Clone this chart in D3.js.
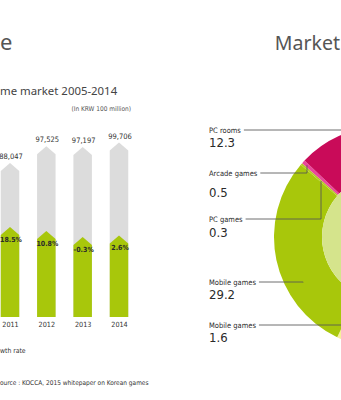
<!DOCTYPE html>
<html><head><meta charset="utf-8">
<script src="https://cdn.jsdelivr.net/npm/d3@7"></script>
<style>
html,body{margin:0;padding:0;background:#fff;overflow:hidden}
svg{display:block}
</style></head><body>
<svg id="chart" width="341" height="400"></svg>
<script>
// ---- data ----
const years = ["2011", "2012", "2013", "2014"];
const marketSize = [88047, 97525, 97197, 99706];           // KRW 100 million
const growthRate = [18.5, 10.8, -0.3, 2.6];                // %
const growthLabels = ["18.5%", "10.8%", "-0.3%", "2.6%"];
const sizeLabels = ["88,047", "97,525", "97,197", "99,706"];

const shareCategories = ["Online games", "Mobile games", "Mobile games", "PC games", "Arcade games", "PC rooms"];
const shareValues = [56.1, 1.6, 29.2, 0.3, 0.5, 12.3];
const shareLabels = ["", "1.6", "29.2", "0.3", "0.5", "12.3"];
const shareColors = ["#f4a23a", "#f6f199", "#a8c70b", "#b3cd22", "#e9489b", "#c90b59"];
const innerValues = [100];
const innerColors = ["#d5e48c"];

const texts = {
  titleLeft: "e",
  titleRight: "Market",
  subtitle: "me market 2005-2014",
  unit: "(In KRW 100 million)",
  legend: "wth rate",
  source: "ource :  KOCCA, 2015 whitepaper on Korean games"
};

// ---- drawing ----
const svg = d3.select("#chart");
const condensed = '"DejaVu Sans Condensed","DejaVu Sans",sans-serif';
const sans = '"Noto Sans","DejaVu Sans",sans-serif';

svg.append("text").attr("x", 0).attr("y", 50)
  .attr("font-family", sans).attr("font-size", 22).attr("fill", "#555").text(texts.titleLeft);
svg.append("text").attr("x", 340).attr("y", 50).attr("text-anchor", "end")
  .attr("font-family", sans).attr("font-size", 19.5).attr("fill", "#555").text(texts.titleRight);
svg.append("text").attr("x", 0).attr("y", 95)
  .attr("font-family", sans).attr("font-size", 11.4).attr("fill", "#444").text(texts.subtitle);
svg.append("text").attr("x", 131).attr("y", 111).attr("text-anchor", "end")
  .attr("font-family", condensed).attr("font-size", 6.5).attr("fill", "#555").text(texts.unit);

// bar chart
const x = d3.scalePoint().domain(years).range([10, 119]);
const y = d3.scaleLinear().domain([0, 100000]).range([317, 142]);
const yG = d3.scaleLinear().domain([-0.3, 18.5]).range([237, 227]);
const bw = 18.5, tip = 8;

function arrowPath(cx, top, bottom) {
  const p = d3.path();
  p.moveTo(cx - bw / 2, bottom);
  p.lineTo(cx - bw / 2, top + tip);
  p.lineTo(cx, top);
  p.lineTo(cx + bw / 2, top + tip);
  p.lineTo(cx + bw / 2, bottom);
  p.closePath();
  return p.toString();
}

const bars = svg.append("g");
years.forEach((yr, i) => {
  const cx = x(yr);
  bars.append("path").attr("d", arrowPath(cx, y(marketSize[i]), y(0))).attr("fill", "#dcdcdc");
  bars.append("path").attr("d", arrowPath(cx, yG(growthRate[i]), y(0))).attr("fill", "#a8c70b");
  bars.append("text").attr("x", cx + 1).attr("y", y(marketSize[i]) - 4).attr("text-anchor", "middle")
    .attr("font-family", condensed).attr("font-size", 7.5).attr("fill", "#333").text(sizeLabels[i]);
  bars.append("text").attr("x", cx + 1).attr("y", yG(growthRate[i]) + 15).attr("text-anchor", "middle")
    .attr("font-family", condensed).attr("font-size", 7).attr("font-weight", "bold").attr("fill", "#2a2a2a")
    .text(growthLabels[i]);
});
const xAxis = svg.append("g").attr("transform", "translate(0,327)")
  .call(d3.axisBottom(x).tickSize(0).tickPadding(0));
xAxis.select(".domain").remove();
xAxis.selectAll("text").attr("dy", 0).attr("font-family", condensed).attr("font-size", 7.2).attr("fill", "#333");

svg.append("text").attr("x", 0).attr("y", 353)
  .attr("font-family", condensed).attr("font-size", 6.8).attr("fill", "#333").text(texts.legend);
svg.append("text").attr("x", 0).attr("y", 385)
  .attr("font-family", condensed).attr("font-size", 6.5).attr("fill", "#333").text(texts.source);

// donut
const cx0 = 385, cy0 = 237, rOut = 111, rIn = 63;
const startA = -2.2 * Math.PI / 180;
const pie = d3.pie().sort(null).startAngle(startA).endAngle(startA + 2 * Math.PI);
const arcs = pie(shareValues);
const arcOuter = d3.arc().innerRadius(rIn).outerRadius(rOut);
const gD = svg.append("g").attr("transform", `translate(${cx0},${cy0})`);
gD.selectAll("path.outer").data(arcs).join("path").attr("class", "outer")
  .attr("d", arcOuter).attr("fill", (d, i) => shareColors[i]);
const arcInner = d3.arc().innerRadius(0).outerRadius(rIn);
gD.selectAll("path.inner").data(d3.pie().sort(null)(innerValues)).join("path").attr("class", "inner")
  .attr("d", arcInner).attr("fill", (d, i) => innerColors[i]);

// labels with leader lines
const labelLayout = [
  { idx: 5, y: 130, ny: 147, f: 0.5, r: 100 },
  { idx: 4, y: 173, ny: 197, f: 0.5, r: 106 },
  { idx: 3, y: 219, ny: 237, f: 0.5, r: 85 },
  { idx: 2, y: 282, ny: 299, f: 0.338, r: 93.5 },
  { idx: 1, y: 325, ny: 342, f: 0.5, r: 100 }
];
const gL = svg.append("g");
labelLayout.forEach(L => {
  const a = arcs[L.idx];
  const ang = a.startAngle + (a.endAngle - a.startAngle) * L.f;
  const tx = cx0 + L.r * Math.sin(ang), ty = cy0 - L.r * Math.cos(ang);
  const t = gL.append("text").attr("x", 209).attr("y", L.y + 2.5)
    .attr("font-family", condensed).attr("font-size", 7.5).attr("fill", "#2a2a2a")
    .text(shareCategories[L.idx]);
  const x0 = 209 + t.node().getComputedTextLength() + 3;
  gL.append("path").attr("d", d3.line()([[x0, L.y], [tx, L.y], [tx, ty]]))
    .attr("fill", "none").attr("stroke", "#555").attr("stroke-opacity", 0.85).attr("stroke-width", 1);
  gL.append("text").attr("x", 209).attr("y", L.ny)
    .attr("font-family", condensed).attr("font-size", 13).attr("fill", "#2a2a2a")
    .text(shareLabels[L.idx]);
});
</script>
</body></html>
